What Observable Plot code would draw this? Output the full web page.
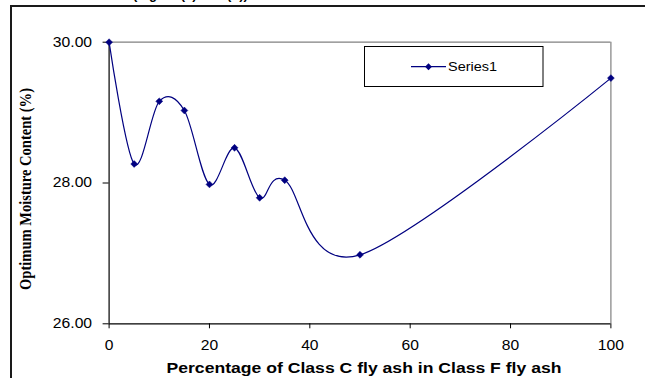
<!DOCTYPE html>
<html>
<head>
<meta charset="utf-8">
<script src="https://cdn.jsdelivr.net/npm/d3@7"></script>
<script src="https://cdn.jsdelivr.net/npm/@observablehq/plot@0.6"></script>
<style>
  html, body { margin: 0; padding: 0; background: #fff; overflow: hidden; }
  #wrap { position: relative; width: 645px; height: 378px; overflow: hidden; }
  #border { position: absolute; left: 10px; top: 5px; width: 800px; height: 500px;
            border-left: 2px solid #1a1a1a; border-top: 2px solid #1a1a1a; pointer-events: none; }
  #cut { position: absolute; left: 133px; top: -13px; font: bold 13px "Liberation Sans", Arial, sans-serif; color: #000; white-space: pre; }
</style>
</head>
<body>
<div id="wrap">
  <div id="cut">(Figure (a) and (b))</div>
  <div id="border"></div>
</div>
<script>
// Data
const classC = [0, 5, 10, 15, 20, 25, 30, 35, 50, 100];
const moisture = [30.00, 28.27, 29.16, 29.03, 27.98, 28.50, 27.79, 28.04, 26.98, 29.49];
const seriesName = "Series1";
const xTicks = [0, 20, 40, 60, 80, 100];
const yTicks = [26, 28, 30];
const xTitle = "Percentage of Class C fly ash in Class F fly ash";
const yTitle = "Optimum Moisture Content (%)";

const data = classC.map((x, i) => ({x, y: moisture[i]}));
const navy = "#000080";
const sans = "'Liberation Sans', Arial, sans-serif";
const serif = "'Liberation Serif', 'Times New Roman', serif";

const W = 645, H = 378;
const mL = 108.6, mR = 34.6, mT = 41.7, mB = 54.7;

const chart = Plot.plot({
  width: W,
  height: H,
  marginLeft: mL,
  marginRight: mR,
  marginTop: mT,
  marginBottom: mB,
  style: {background: "transparent", fontFamily: sans, color: "#000"},
  x: {domain: [0, 100]},
  y: {domain: [26, 30]},
  marks: [
    Plot.ruleY([30], {stroke: "#808080", strokeWidth: 1.2}),
    Plot.ruleX([100], {stroke: "#808080", strokeWidth: 1.2}),
    Plot.ruleX([0], {stroke: "#000", strokeWidth: 1.2}),
    Plot.ruleY([26], {stroke: "#000", strokeWidth: 1.2}),
    Plot.axisY({ticks: yTicks, tickFormat: d3.format(".2f"), tickSize: 6, tickPadding: 11, label: null, stroke: "#000", strokeOpacity: 1}),
    Plot.axisX({ticks: xTicks, tickFormat: d => String(d), tickSize: 5, tickPadding: 11, label: null, stroke: "#000", strokeOpacity: 1}),
    Plot.line(data, {x: "x", y: "y", curve: "cardinal", stroke: navy, strokeWidth: 1.2}),
    Plot.dot(data, {x: "x", y: "y", symbol: "diamond2", r: 3.1, fill: navy, stroke: navy, strokeWidth: 0.5})
  ]
});

const svg = d3.select(chart);

// Tick label styling: the reference glyphs are slightly wide
svg.selectAll('g[aria-label="y-axis tick label"], g[aria-label="x-axis tick label"]')
  .attr("font-size", 14).attr("fill", "#000");
svg.selectAll('g[aria-label="y-axis tick label"] text, g[aria-label="x-axis tick label"] text')
  .attr("font-size", 14).attr("fill", "#000").attr("fill-opacity", 1);

// Axis titles
svg.append("text")
  .attr("x", 364).attr("y", 368).attr("dy", "0.35em")
  .attr("text-anchor", "middle")
  .attr("font-family", sans).attr("font-weight", "bold").attr("font-size", 14.5)
  .attr("textLength", 395).attr("lengthAdjust", "spacingAndGlyphs")
  .attr("fill", "#000").text(xTitle);

svg.append("text")
  .attr("transform", "translate(25,189) rotate(-90) scale(1,1.15)")
  .attr("dy", "0.35em")
  .attr("text-anchor", "middle")
  .attr("font-family", serif).attr("font-weight", "bold").attr("font-size", 14.5)
  .attr("textLength", 202).attr("lengthAdjust", "spacingAndGlyphs")
  .attr("fill", "#000").text(yTitle);

// Legend box
const lg = svg.append("g");
lg.append("rect").attr("x", 364.5).attr("y", 46.5).attr("width", 178.5).attr("height", 40)
  .attr("fill", "#fff").attr("stroke", "#000").attr("stroke-width", 1);
lg.append("line").attr("x1", 411).attr("x2", 446).attr("y1", 66.7).attr("y2", 66.7)
  .attr("stroke", navy).attr("stroke-width", 1.2);
lg.append("path").attr("d", d3.symbol(d3.symbolDiamond2, Math.PI * 3.1 * 3.1)())
  .attr("transform", "translate(428.5,66.7)").attr("fill", navy);
lg.append("text").attr("x", 448).attr("y", 66.7).attr("dy", "0.35em")
  .attr("text-anchor", "start").attr("font-family", sans)
  .attr("font-size", 13.5).attr("textLength", 49).attr("lengthAdjust", "spacingAndGlyphs")
  .attr("fill", "#000").text(seriesName);

document.getElementById("wrap").prepend(chart);
chart.style.position = "absolute";
chart.style.left = "0px";
chart.style.top = "0px";

// widen tick labels a little, as in the reference
svg.selectAll('g[aria-label="y-axis tick label"] text, g[aria-label="x-axis tick label"] text')
  .each(function() {
    const len = this.getComputedTextLength();
    if (len > 0) {
      this.setAttribute("textLength", (len * 1.12).toFixed(1));
      this.setAttribute("lengthAdjust", "spacingAndGlyphs");
    }
  });
</script>
</body>
</html>
